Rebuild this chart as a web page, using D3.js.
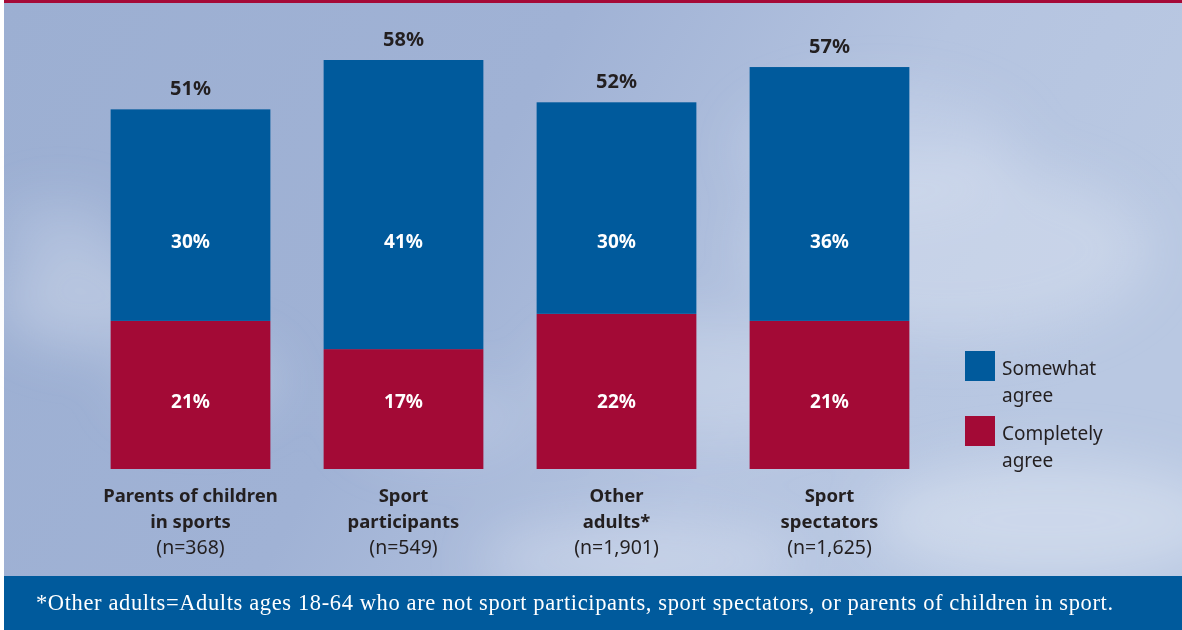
<!DOCTYPE html>
<html><head><meta charset="utf-8">
<script src="https://cdn.jsdelivr.net/npm/d3@7"></script>
<style>html,body{margin:0;padding:0;background:#fff;overflow:hidden}svg{display:block}</style>
</head><body>
<svg id="c" width="1182" height="630"></svg>
<script>
const categories = ["Parents of children in sports","Sport participants","Other adults*","Sport spectators"];
const labelLines = [["Parents of children","in sports"],["Sport","participants"],["Other","adults*"],["Sport","spectators"]];
const sampleSizes = ["(n=368)","(n=549)","(n=1,901)","(n=1,625)"];
const completelyAgree = [21,17,22,21];
const somewhatAgree = [30,41,30,36];
const totals = [51,58,52,57];
const seriesNames = ["Somewhat agree","Completely agree"];
const footnote = "*Other adults=Adults ages 18-64 who are not sport participants, sport spectators, or parents of children in sport.";

const W=1182,H=630;
const svg=d3.select("#c");
const BLUE="#005a9c", RED="#a30a36";
const defs=svg.append("defs");
const g1=defs.append("linearGradient").attr("id","sky").attr("x1","0").attr("y1","0").attr("x2","1").attr("y2","0.3");
g1.append("stop").attr("offset","0").attr("stop-color","#9cafd2");
g1.append("stop").attr("offset","0.45").attr("stop-color","#a0b2d5");
g1.append("stop").attr("offset","0.75").attr("stop-color","#b5c4e0");
g1.append("stop").attr("offset","1").attr("stop-color","#b9c8e2");
const blur=defs.append("filter").attr("id","blur").attr("x","-50%").attr("y","-50%").attr("width","200%").attr("height","200%");
blur.append("feGaussianBlur").attr("stdDeviation",26);

svg.append("rect").attr("width",W).attr("height",H).attr("fill","#fff");
svg.append("rect").attr("x",4).attr("y",0).attr("width",W-4).attr("height",H).attr("fill","url(#sky)");
const clouds=svg.append("g").attr("filter","url(#blur)");
[[90,300,90,50,0.35],[200,380,80,40,0.3],[60,230,60,30,0.25],[700,380,160,60,0.3],[950,250,200,90,0.35],[1050,520,180,60,0.45],[640,560,160,40,0.35],[880,150,140,60,0.25],[440,420,90,40,0.2]].forEach(c=>{
  clouds.append("ellipse").attr("cx",c[0]).attr("cy",c[1]).attr("rx",c[2]).attr("ry",c[3]).attr("fill","#e4ebf6").attr("opacity",c[4]);
});
svg.append("rect").attr("x",4).attr("y",0).attr("width",W-4).attr("height",3).attr("fill","#a50a38");

const x=d3.scaleBand().domain(categories).range([84,936]).paddingInner(0.25).paddingOuter(0.125);
const y=d3.scaleLinear().domain([0,58]).range([469,60]);
const font="'Noto Sans', 'Open Sans', sans-serif";

const stackData=categories.map((c,i)=>({cat:c,complete:completelyAgree[i],somewhat:somewhatAgree[i],total:totals[i]}));
const stack=d3.stack().keys(["complete","somewhat"])(stackData);
const colors={complete:RED,somewhat:BLUE};
const innerLabelY={complete:408,somewhat:248};
stack.forEach(layer=>{
  const lg=svg.append("g");
  lg.selectAll("rect").data(layer).join("rect")
    .attr("x",d=>x(d.data.cat)).attr("width",x.bandwidth())
    .attr("y",d=>y(d[1])).attr("height",d=>y(d[0])-y(d[1]))
    .attr("fill",colors[layer.key]);
  lg.selectAll("text").data(layer).join("text")
    .attr("x",d=>x(d.data.cat)+x.bandwidth()/2)
    .attr("y",innerLabelY[layer.key])
    .attr("text-anchor","middle").attr("fill","#fff")
    .attr("font-family",font).attr("font-weight","bold").attr("font-size",19)
    .text(d=>d.data[layer.key]+"%");
});
svg.append("g").selectAll("text").data(stackData).join("text")
  .attr("x",d=>x(d.cat)+x.bandwidth()/2).attr("y",d=>y(d.total)-14)
  .attr("text-anchor","middle").attr("fill","#231f20")
  .attr("font-family",font).attr("font-weight","bold").attr("font-size",20)
  .text(d=>d.total+"%");

const cl=svg.append("g");
categories.forEach((c,i)=>{
  const cx=x(c)+x.bandwidth()/2;
  labelLines[i].forEach((t,j)=>{
    cl.append("text").attr("x",cx).attr("y",502+j*26).attr("text-anchor","middle")
      .attr("font-family",font).attr("font-weight","bold").attr("font-size",18.5).attr("fill","#231f20")
      .text(t);
  });
  cl.append("text").attr("x",cx).attr("y",554).attr("text-anchor","middle")
    .attr("font-family",font).attr("font-size",19.5).attr("fill","#231f20").text(sampleSizes[i]);
});

const lgd=svg.append("g");
const legendColors=[BLUE,RED];
const legendLines=[["Somewhat","agree"],["Completely","agree"]];
seriesNames.forEach((s,i)=>{
  const yy=351+i*65;
  lgd.append("rect").attr("x",965).attr("y",yy).attr("width",30).attr("height",30).attr("fill",legendColors[i]);
  legendLines[i].forEach((t,j)=>{
    lgd.append("text").attr("x",1002).attr("y",yy+24+j*27).attr("font-family",font).attr("font-size",19).attr("fill","#231f20").text(t);
  });
});

svg.append("rect").attr("x",4).attr("y",576).attr("width",W-4).attr("height",54).attr("fill",BLUE);
svg.append("text").attr("x",36).attr("y",610).attr("font-family","'Liberation Serif','DejaVu Serif',serif").attr("font-size",22.5)
  .attr("textLength",1077).attr("lengthAdjust","spacing").attr("fill","#fff").text(footnote);
</script>
</body></html>
